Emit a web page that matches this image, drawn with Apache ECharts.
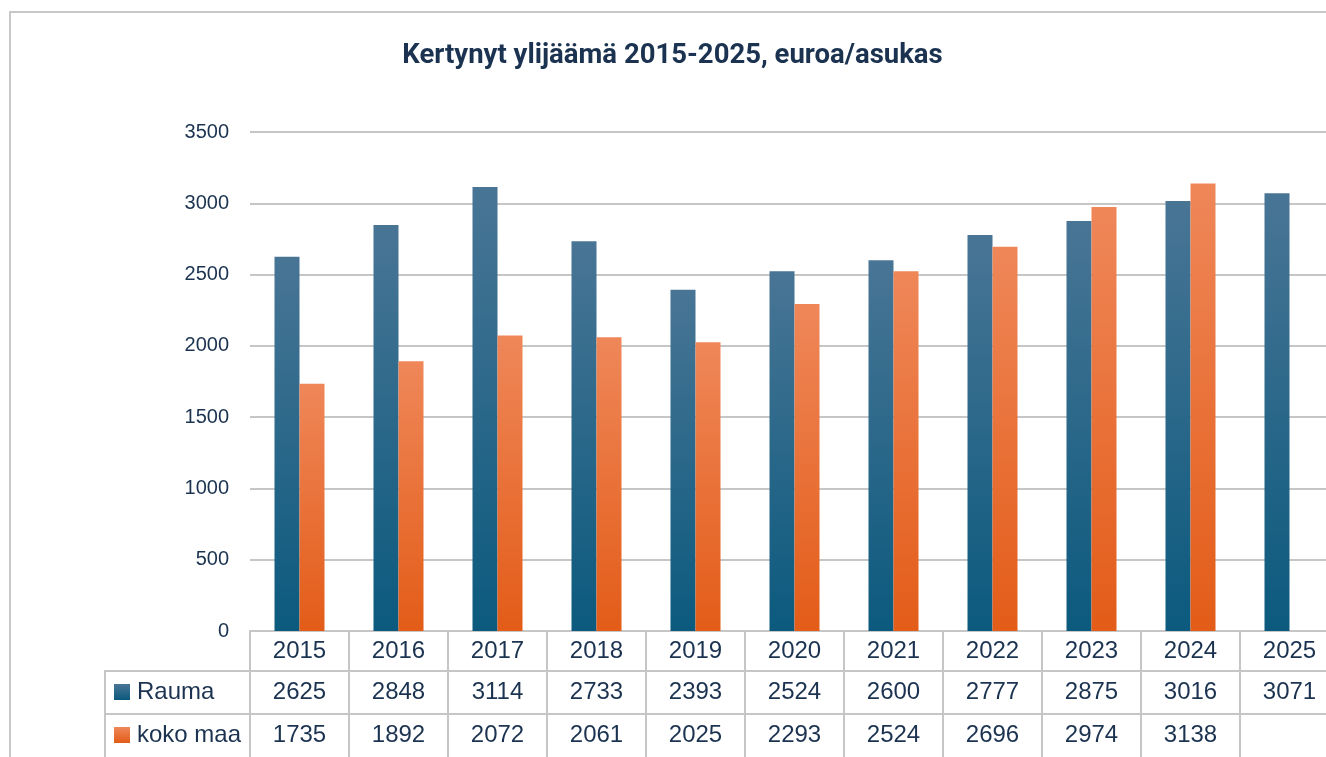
<!DOCTYPE html>
<html>
<head>
<meta charset="utf-8">
<script src="https://cdn.jsdelivr.net/npm/echarts@6/dist/echarts.min.js"></script>
<style>
html,body{margin:0;padding:0;background:#fff;overflow:hidden;}
#chart{width:1345px;height:757px;}
</style>
</head>
<body>
<div id="chart"></div>
<script>
const titleText = 'Kertynyt ylijäämä 2015-2025, euroa/asukas';
const years = ['2015','2016','2017','2018','2019','2020','2021','2022','2023','2024','2025'];
const seriesNames = ['Rauma','koko maa'];
const rauma = [2625,2848,3114,2733,2393,2524,2600,2777,2875,3016,3071];
const kokoMaa = [1735,1892,2072,2061,2025,2293,2524,2696,2974,3138,null];
const yTicks = {min:0, max:3500, interval:500};

const textColor = '#1b3350';
const lineColor = '#c6c6c6';
const font = "'Liberation Sans', Arial, sans-serif";

const blueGrad = new echarts.graphic.LinearGradient(0,0,0,1,[
  {offset:0,color:'#497595'},{offset:1,color:'#0b5a7e'}]);
const orangeGrad = new echarts.graphic.LinearGradient(0,0,0,1,[
  {offset:0,color:'#ef8759'},{offset:1,color:'#e35c18'}]);

const chart = echarts.init(document.getElementById('chart'), null, {renderer:'canvas'});

const option = {
  animation:false,
  backgroundColor:'#fff',
  title:{
    text:titleText, left:'center', top:37,
    textStyle:{fontFamily:"Roboto, sans-serif", fontWeight:'bold', fontSize:27.5, color:textColor}
  },
  legend:{
    orient:'vertical', left:114, top:680, padding:0, itemWidth:16, itemHeight:16, itemGap:19,
    icon:'rect', selectedMode:false,
    textStyle:{fontFamily:font, fontSize:24, lineHeight:24, color:textColor, padding:[0,0,0,2]},
    data:seriesNames
  },
  grid:{left:250, right:6, top:132, bottom:126, containLabel:false},
  xAxis:[
    {type:'category', data:years, position:'bottom',
      axisLine:{show:true, lineStyle:{color:lineColor, width:2}},
      axisTick:{show:true, interval:0, length:130, lineStyle:{color:lineColor, width:2}},
      axisLabel:{interval:0, margin:8, fontFamily:font, fontSize:24, lineHeight:24, color:textColor},
      splitLine:{show:false}},
    {type:'category', data:years, position:'bottom', offset:40,
      axisLine:{show:true, lineStyle:{color:lineColor, width:2}},
      axisTick:{show:false},
      axisLabel:{interval:0, margin:9, fontFamily:font, fontSize:24, lineHeight:24, color:textColor,
        formatter:(v,i)=> rauma[i]==null ? '' : String(rauma[i])}},
    {type:'category', data:years, position:'bottom', offset:83,
      axisLine:{show:true, lineStyle:{color:lineColor, width:2}},
      axisTick:{show:false},
      axisLabel:{interval:0, margin:9, fontFamily:font, fontSize:24, lineHeight:24, color:textColor,
        formatter:(v,i)=> kokoMaa[i]==null ? '' : String(kokoMaa[i])}}
  ],
  yAxis:{
    type:'value', min:yTicks.min, max:yTicks.max, interval:yTicks.interval,
    axisLine:{show:false}, axisTick:{show:false},
    axisLabel:{margin:21, fontFamily:font, fontSize:20, color:textColor, formatter:v=>String(v)},
    splitLine:{lineStyle:{color:lineColor, width:2}}
  },
  series:[
    {name:seriesNames[0], type:'bar', xAxisIndex:0, data:rauma, barWidth:25, barGap:'0%',
      itemStyle:{color:blueGrad}},
    {name:seriesNames[1], type:'bar', xAxisIndex:0, data:kokoMaa, barWidth:25, barGap:'0%',
      itemStyle:{color:orangeGrad}}
  ],
  graphic:[
    {type:'rect', silent:true, z:-1, shape:{x:10, y:12, width:1400, height:800},
      style:{fill:null, stroke:'#c8c8c8', lineWidth:2}},
    {type:'line', silent:true, shape:{x1:105, y1:671, x2:250, y2:671}, style:{stroke:lineColor, lineWidth:2}},
    {type:'line', silent:true, shape:{x1:105, y1:714, x2:250, y2:714}, style:{stroke:lineColor, lineWidth:2}},
    {type:'line', silent:true, shape:{x1:105, y1:670, x2:105, y2:760}, style:{stroke:lineColor, lineWidth:2}}
  ]
};
chart.setOption(option);
</script>
</body>
</html>
